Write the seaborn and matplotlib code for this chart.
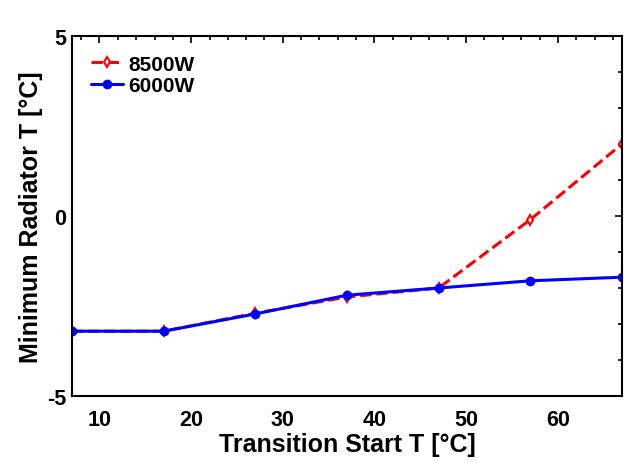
import matplotlib
matplotlib.use("Agg")
import matplotlib.pyplot as plt
import seaborn as sns
import pandas as pd
from matplotlib.ticker import MultipleLocator

transition_start = [7, 17, 27, 37, 47, 57, 67]
min_rad_8500 = [-3.2, -3.2, -2.7, -2.25, -2.0, -0.1, 2.0]
min_rad_6000 = [-3.2, -3.2, -2.72, -2.2, -2.0, -1.8, -1.7]
series_names = ["8500W", "6000W"]
x_ticks = [10, 20, 30, 40, 50, 60]
y_ticks = [-5, 0, 5]

sns.set_style("white")
plt.rcParams['font.family'] = ['Liberation Sans', 'DejaVu Sans']
plt.rcParams['font.weight'] = 'bold'
plt.rcParams['axes.unicode_minus'] = False
plt.rcParams['text.color'] = 'black'
plt.rcParams['axes.labelcolor'] = 'black'
plt.rcParams['xtick.color'] = 'black'
plt.rcParams['ytick.color'] = 'black'

df = pd.DataFrame({
    "x": transition_start * 2,
    "y": min_rad_8500 + min_rad_6000,
    "series": [series_names[0]] * 7 + [series_names[1]] * 7,
})

fig = plt.figure(figsize=(6.24, 4.64), dpi=100)
ax = fig.add_axes([72/624, 1 - 397/464, 550/624, 360/464])

sns.lineplot(data=df[df.series == "8500W"], x="x", y="y", ax=ax, color="red",
             linestyle="--", linewidth=2.2, marker="d", markersize=5,
             markerfacecolor="white", markeredgecolor="red", markeredgewidth=1.5,
             label="8500W", dashes=(3, 2.5))
sns.lineplot(data=df[df.series == "6000W"], x="x", y="y", ax=ax, color="blue",
             linestyle="-", linewidth=2.2, marker="o", markersize=5,
             markerfacecolor="blue", markeredgecolor="blue", markeredgewidth=2,
             label="6000W")

ax.set_xlim(7, 67)
ax.set_ylim(-5, 5)
ax.set_xticks(x_ticks)
ax.set_yticks(y_ticks)
ax.xaxis.set_minor_locator(MultipleLocator(2))
ax.yaxis.set_minor_locator(MultipleLocator(1))
ax.tick_params(which="both", direction="in", top=True, right=True, width=1.2)
ax.tick_params(which="major", length=5, labelsize=15.5)
ax.tick_params(axis="x", which="major", pad=9)
ax.tick_params(axis="y", which="major", pad=4)
ax.tick_params(which="minor", length=3)
for lbl in ax.get_xticklabels() + ax.get_yticklabels():
    lbl.set_fontweight("bold")
for sp in ax.spines.values():
    sp.set_visible(True)
    sp.set_color("black")
    sp.set_linewidth(1.5)

ax.set_xlabel("Transition Start T [°C]", fontsize=18, fontweight="bold", labelpad=2)
ax.set_ylabel("Minimum Radiator T [°C]", fontsize=18, fontweight="bold", labelpad=3)

leg = ax.legend(loc="upper left", frameon=False, fontsize=15, handlelength=1.55,
                borderaxespad=0.5, handletextpad=0.25, labelspacing=0.1)
for t in leg.get_texts():
    t.set_fontweight("bold")

fig.savefig("out.png", dpi=100)
